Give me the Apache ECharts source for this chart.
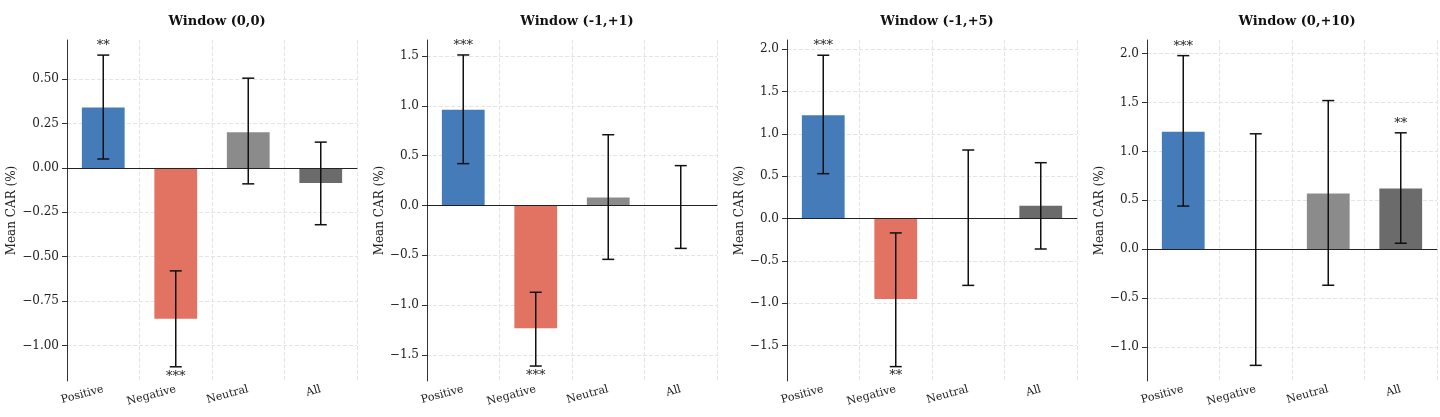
<!DOCTYPE html>
<html><head><meta charset="utf-8">
<script src="https://cdn.jsdelivr.net/npm/echarts@6/dist/echarts.min.js"></script>
<style>html,body{margin:0;background:#fff}#c{width:1440px;height:417px}</style>
</head><body><div id="c"></div>
<script>
var categories = ['Positive','Negative','Neutral','All'];
var titles = ['Window (0,0)','Window (-1,+1)','Window (-1,+5)','Window (0,+10)'];
var means = [[0.34,-0.85,0.20,-0.085],[0.96,-1.23,0.08,0.0],[1.22,-0.95,0.0,0.15],[1.20,0.0,0.57,0.62]];
var errLow = [[0.05,-1.12,-0.09,-0.32],[0.42,-1.61,-0.54,-0.43],[0.53,-1.75,-0.79,-0.36],[0.44,-1.19,-0.37,0.06]];
var errHigh = [[0.635,-0.58,0.505,0.145],[1.51,-0.87,0.71,0.40],[1.93,-0.17,0.81,0.66],[1.98,1.18,1.52,1.19]];
var stars = [['**','***','',''],['***','***','',''],['***','**','',''],['***','','','**']];
var yMin = [-1.2,-1.76,-1.92,-1.35];
var yMax = [0.72,1.66,2.11,2.14];
var yTicks = [[-1.0,-0.75,-0.5,-0.25,0,0.25,0.5],[-1.5,-1,-0.5,0,0.5,1,1.5],[-1.5,-1,-0.5,0,0.5,1,1.5,2],[-1,-0.5,0,0.5,1,1.5,2]];
var colors = ['#3a74b4','#e06c5b','#858585','#636363'];
var font = 'DejaVu Serif';

var chart = echarts.init(document.getElementById('c'));
var option = {grid:[],xAxis:[],yAxis:[],series:[],title:[],animation:false,textStyle:{fontFamily:font}};
for (var k=0;k<4;k++){
  var left = 67+360*k, dec = k==0?2:1;
  option.grid.push({left:left,width:290,top:40,height:341});
  option.title.push({text:titles[k],left:left+145,top:10,textAlign:'center',
    textStyle:{fontFamily:font,fontSize:13,fontWeight:'bold',color:'#111'}});
  option.xAxis.push({type:'category',gridIndex:k,data:categories,
    axisLine:{lineStyle:{color:'#333'}},axisTick:{alignWithLabel:true,lineStyle:{color:'#333'}},
    axisLabel:{rotate:15,fontFamily:font,fontSize:11,color:'#222',margin:8},
    splitLine:{show:true,lineStyle:{type:'dashed',color:'#e4e4e4'}}});
  option.yAxis.push({type:'value',gridIndex:k,min:yMin[k],max:yMax[k],
    name:'Mean CAR (%)',nameLocation:'middle',nameGap:dec==2?46:38,
    nameTextStyle:{fontFamily:font,fontSize:12,color:'#222'},
    axisLine:{show:true,lineStyle:{color:'#333'}},
    axisTick:{show:true,customValues:yTicks[k],lineStyle:{color:'#333'}},
    axisLabel:{customValues:yTicks[k],fontFamily:font,fontSize:12,color:'#222',
      formatter:(function(d){return function(v){return v.toFixed(d).replace('-','\u2212');};})(dec)},
    splitLine:{show:true,lineStyle:{type:'dashed',color:'#e4e4e4'}}});
  option.series.push({type:'bar',xAxisIndex:k,yAxisIndex:k,barWidth:'59%',
    data:means[k].map(function(v,i){return {value:v,itemStyle:{color:colors[i],opacity:0.95}};}),
    markLine:{silent:true,symbol:'none',label:{show:false},lineStyle:{color:'#222',type:'solid',width:1},data:[{yAxis:0}]}});
  option.series.push({type:'custom',xAxisIndex:k,yAxisIndex:k,z:5,
    data:categories.map(function(c,i){return [i,errLow[k][i],errHigh[k][i],means[k][i],stars[k][i]];}),
    encode:{x:0,y:[1,2]},
    renderItem:function(params,api){
      var lo=api.coord([api.value(0),api.value(1)]), hi=api.coord([api.value(0),api.value(2)]);
      var x=lo[0], w=6, s=api.value(4), up=api.value(3)>=0;
      var st={stroke:'#111',lineWidth:1.5};
      var ch=[{type:'line',shape:{x1:x,y1:lo[1],x2:x,y2:hi[1]},style:st},
        {type:'line',shape:{x1:x-w,y1:lo[1],x2:x+w,y2:lo[1]},style:st},
        {type:'line',shape:{x1:x-w,y1:hi[1],x2:x+w,y2:hi[1]},style:st}];
      if(s) ch.push({type:'text',style:{text:s,x:x,y:up?hi[1]-3:lo[1]+3,align:'center',
        verticalAlign:up?'bottom':'top',fontFamily:font,fontSize:13,fill:'#222'}});
      return {type:'group',children:ch};
    }});
}
chart.setOption(option);
</script></body></html>
